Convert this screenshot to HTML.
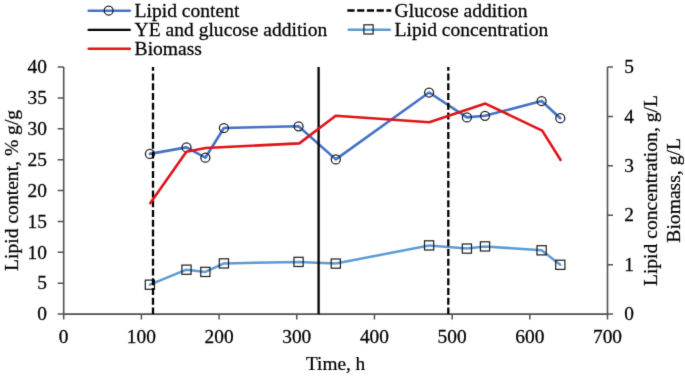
<!DOCTYPE html>
<html><head><meta charset="utf-8"><style>
html,body{margin:0;padding:0;background:#fff;}
svg{display:block;will-change:transform;}
text{font-family:"Liberation Serif",serif;font-size:19px;fill:#000;stroke:#000;stroke-width:0.25px;}
</style></head><body>
<svg width="685" height="377" viewBox="0 0 685 377">
<defs><filter id="bl" x="0" y="0" width="685" height="377" filterUnits="userSpaceOnUse" color-interpolation-filters="sRGB"><feConvolveMatrix order="3" kernelMatrix="0.0183 0.1353 0.0183 0.1353 1 0.1353 0.0183 0.1353 0.0183" preserveAlpha="false"/></filter></defs>
<rect width="685" height="377" fill="#fff"/>
<g filter="url(#bl)">
<rect width="685" height="377" fill="#fff"/>
<path d="M63.7,67.0 V314.1 H607.5 V67.0" fill="none" stroke="#505050" stroke-width="1.6"/>
<path d="M57.7,314.1 H63.7 M57.7,283.21 H63.7 M57.7,252.33 H63.7 M57.7,221.44 H63.7 M57.7,190.55 H63.7 M57.7,159.66 H63.7 M57.7,128.78 H63.7 M57.7,97.89 H63.7 M57.7,67 H63.7 M607.5,314.1 H613.0 M607.5,264.68 H613.0 M607.5,215.26 H613.0 M607.5,165.84 H613.0 M607.5,116.42 H613.0 M607.5,67 H613.0 M63.7,314.1 V319.40000000000003 M141.39,314.1 V319.40000000000003 M219.07,314.1 V319.40000000000003 M296.76,314.1 V319.40000000000003 M374.44,314.1 V319.40000000000003 M452.13,314.1 V319.40000000000003 M529.81,314.1 V319.40000000000003 M607.5,314.1 V319.40000000000003" fill="none" stroke="#505050" stroke-width="1.5"/>
<text transform="translate(47,320.3) scale(1.02,1)" text-anchor="end">0</text>
<text transform="translate(47,289.41) scale(1.02,1)" text-anchor="end">5</text>
<text transform="translate(47,258.53) scale(1.02,1)" text-anchor="end">10</text>
<text transform="translate(47,227.64) scale(1.02,1)" text-anchor="end">15</text>
<text transform="translate(47,196.75) scale(1.02,1)" text-anchor="end">20</text>
<text transform="translate(47,165.86) scale(1.02,1)" text-anchor="end">25</text>
<text transform="translate(47,134.97) scale(1.02,1)" text-anchor="end">30</text>
<text transform="translate(47,104.09) scale(1.02,1)" text-anchor="end">35</text>
<text transform="translate(47,73.2) scale(1.02,1)" text-anchor="end">40</text>
<text transform="translate(624.3,320.3) scale(1.02,1)">0</text>
<text transform="translate(624.3,270.88) scale(1.02,1)">1</text>
<text transform="translate(624.3,221.46) scale(1.02,1)">2</text>
<text transform="translate(624.3,172.04) scale(1.02,1)">3</text>
<text transform="translate(624.3,122.62) scale(1.02,1)">4</text>
<text transform="translate(624.3,73.2) scale(1.02,1)">5</text>
<text transform="translate(63.7,342.8) scale(1.02,1)" text-anchor="middle">0</text>
<text transform="translate(141.39,342.8) scale(1.02,1)" text-anchor="middle">100</text>
<text transform="translate(219.07,342.8) scale(1.02,1)" text-anchor="middle">200</text>
<text transform="translate(296.76,342.8) scale(1.02,1)" text-anchor="middle">300</text>
<text transform="translate(374.44,342.8) scale(1.02,1)" text-anchor="middle">400</text>
<text transform="translate(452.13,342.8) scale(1.02,1)" text-anchor="middle">500</text>
<text transform="translate(529.81,342.8) scale(1.02,1)" text-anchor="middle">600</text>
<text transform="translate(607.5,342.8) scale(1.02,1)" text-anchor="middle">700</text>
<text transform="translate(335.6,369.6) scale(1.015,1)" text-anchor="middle">Time, h</text>
<text transform="translate(18.4,190.4) rotate(-90)" text-anchor="middle" style="font-size:19.6px">Lipid content, % g/g</text>
<text transform="translate(657.2,190.6) rotate(-90)" text-anchor="middle" style="font-size:19.6px">Lipid concentration, g/L</text>
<text transform="translate(680,190.4) rotate(-90)" text-anchor="middle" style="font-size:19.6px">Biomass, g/L</text>
<polyline points="149.9,284.7 186.5,269.7 205.35,271.9 223.9,263.4 298.55,261.9 335.8,263.6 429.1,245.4 466.9,248.6 485,246.4 541.6,250.3 560.3,264.8" fill="none" stroke="#5B9BD5" stroke-width="2.5" stroke-linejoin="round" stroke-linecap="round"/>
<rect x="145.3" y="280.1" width="9.2" height="9.2" fill="none" stroke="#1c1c1c" stroke-width="1.2"/>
<rect x="181.9" y="265.1" width="9.2" height="9.2" fill="none" stroke="#1c1c1c" stroke-width="1.2"/>
<rect x="200.75" y="267.3" width="9.2" height="9.2" fill="none" stroke="#1c1c1c" stroke-width="1.2"/>
<rect x="219.3" y="258.8" width="9.2" height="9.2" fill="none" stroke="#1c1c1c" stroke-width="1.2"/>
<rect x="293.95" y="257.3" width="9.2" height="9.2" fill="none" stroke="#1c1c1c" stroke-width="1.2"/>
<rect x="331.2" y="259" width="9.2" height="9.2" fill="none" stroke="#1c1c1c" stroke-width="1.2"/>
<rect x="424.5" y="240.8" width="9.2" height="9.2" fill="none" stroke="#1c1c1c" stroke-width="1.2"/>
<rect x="462.3" y="244" width="9.2" height="9.2" fill="none" stroke="#1c1c1c" stroke-width="1.2"/>
<rect x="480.4" y="241.8" width="9.2" height="9.2" fill="none" stroke="#1c1c1c" stroke-width="1.2"/>
<rect x="537" y="245.7" width="9.2" height="9.2" fill="none" stroke="#1c1c1c" stroke-width="1.2"/>
<rect x="555.7" y="260.2" width="9.2" height="9.2" fill="none" stroke="#1c1c1c" stroke-width="1.2"/>
<polyline points="149.9,153.9 186.5,147.4 205.35,157.7 223.9,128 298.55,126.3 335.8,159.4 429.1,92.5 466.9,117.4 485,115.8 541.6,101 560.3,118.2" fill="none" stroke="#4472C4" stroke-width="2.6" stroke-linejoin="round" stroke-linecap="round"/>
<circle cx="149.9" cy="153.9" r="4.5" fill="none" stroke="#1c1c1c" stroke-width="1.25"/>
<circle cx="186.5" cy="147.4" r="4.5" fill="none" stroke="#1c1c1c" stroke-width="1.25"/>
<circle cx="205.35" cy="157.7" r="4.5" fill="none" stroke="#1c1c1c" stroke-width="1.25"/>
<circle cx="223.9" cy="128" r="4.5" fill="none" stroke="#1c1c1c" stroke-width="1.25"/>
<circle cx="298.55" cy="126.3" r="4.5" fill="none" stroke="#1c1c1c" stroke-width="1.25"/>
<circle cx="335.8" cy="159.4" r="4.5" fill="none" stroke="#1c1c1c" stroke-width="1.25"/>
<circle cx="429.1" cy="92.5" r="4.5" fill="none" stroke="#1c1c1c" stroke-width="1.25"/>
<circle cx="466.9" cy="117.4" r="4.5" fill="none" stroke="#1c1c1c" stroke-width="1.25"/>
<circle cx="485" cy="115.8" r="4.5" fill="none" stroke="#1c1c1c" stroke-width="1.25"/>
<circle cx="541.6" cy="101" r="4.5" fill="none" stroke="#1c1c1c" stroke-width="1.25"/>
<circle cx="560.3" cy="118.2" r="4.5" fill="none" stroke="#1c1c1c" stroke-width="1.25"/>
<path d="M153,314.1 V67.0" stroke="#000" stroke-width="2.3" stroke-dasharray="7.2 2.55" stroke-dashoffset="0.5"/>
<path d="M448.3,314.1 V67.0" stroke="#000" stroke-width="2.3" stroke-dasharray="7.2 2.55" stroke-dashoffset="0.5"/>
<path d="M318.6,314.1 V67.0" stroke="#000" stroke-width="2.3"/>
<polyline points="150.2,203.2 186.4,151.7 205.6,148 299.3,143.4 335.7,115.8 429.3,122.2 485.4,103.6 542.2,130.6 560.6,160" fill="none" stroke="#E01418" stroke-width="2.6" stroke-linejoin="round" stroke-linecap="round"/>
<path d="M88.7,10.75 H129.8" stroke="#4472C4" stroke-width="2.6" stroke-linecap="round"/>
<circle cx="108.65" cy="10.5" r="4.5" fill="none" stroke="#1c1c1c" stroke-width="1.25"/>
<text transform="translate(134.6,16.7) scale(1.03,1)">Lipid content</text>
<path d="M88.6,29.85 H129.8" stroke="#000" stroke-width="2.4" stroke-linecap="round"/>
<text transform="translate(134.6,35.8) scale(1.03,1)">YE and glucose addition</text>
<path d="M88.7,48.75 H129.8" stroke="#E01418" stroke-width="2.6" stroke-linecap="round"/>
<text transform="translate(134.6,54.9) scale(1.03,1)">Biomass</text>
<path d="M347.4,10.5 H391.2" stroke="#000" stroke-width="2.3" stroke-dasharray="7.2 2.55"/>
<text transform="translate(394.6,16.7) scale(1.03,1)">Glucose addition</text>
<path d="M348.7,29.8 H389.8" stroke="#5B9BD5" stroke-width="2.5" stroke-linecap="round"/>
<rect x="363.9" y="24.8" width="9.2" height="9.2" fill="none" stroke="#1c1c1c" stroke-width="1.2"/>
<text transform="translate(394.6,35.8) scale(1.03,1)">Lipid concentration</text>
</g>
</svg>
</body></html>
